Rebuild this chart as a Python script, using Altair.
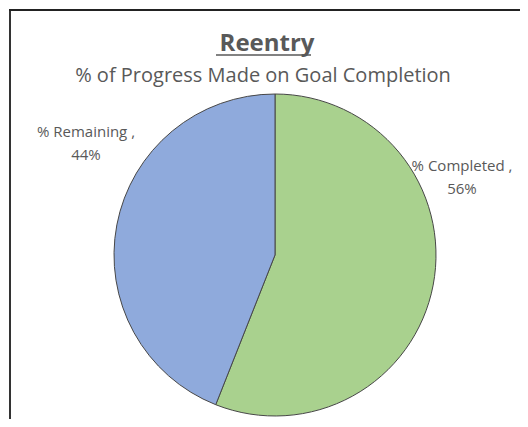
import altair as alt
import pandas as pd

categories = ["% Completed", "% Remaining"]
values = [56, 44]
colors = ["#A9D18E", "#8FAADC"]
title_text = "Reentry"
subtitle_text = "% of Progress Made on Goal Completion"

df = pd.DataFrame({"category": categories, "value": values, "order": [0, 1]})
df["label"] = [f"{v}%" for v in values]

W, H = 512, 411
CX, CY, R = 266, 246, 161
FONT = "Open Sans"
TXT = "#595959"

base = alt.Chart(df)

pie = base.mark_arc(outerRadius=R, stroke="#474747", strokeWidth=1).encode(
    theta=alt.Theta("value:Q", stack=True),
    color=alt.Color("category:N", scale=alt.Scale(domain=categories, range=colors), legend=None),
    order=alt.Order("order:Q"),
    x=alt.value(CX),
    y=alt.value(CY),
)

def label(cat, x, y1, y2):
    d = df[df["category"] == cat]
    l1 = alt.Chart(d).mark_text(font=FONT, fontSize=15, color=TXT, align="center", baseline="alphabetic").encode(
        text=alt.Text("category:N"), x=alt.value(x), y=alt.value(y1)
    ).transform_calculate(category="datum.category + ' ,'")
    l2 = alt.Chart(d).mark_text(font=FONT, fontSize=15, color=TXT, align="center", baseline="alphabetic").encode(
        text=alt.Text("label:N"), x=alt.value(x), y=alt.value(y2)
    )
    return l1 + l2

lab_c = label("% Completed", 453, 162, 185)
lab_r = label("% Remaining", 77, 128, 151)

tdf = pd.DataFrame({"t": [title_text], "s": [subtitle_text]})
title = alt.Chart(tdf).mark_text(font=FONT, fontSize=24, fontWeight="bold", color=TXT, align="center", baseline="alphabetic").encode(
    text="t:N", x=alt.value(258), y=alt.value(42))
underline = alt.Chart(tdf).mark_rule(color=TXT, strokeWidth=1.5).encode(
    x=alt.value(207), x2=alt.value(302), y=alt.value(46))
subtitle = alt.Chart(tdf).mark_text(font=FONT, fontSize=20, color=TXT, align="center", baseline="alphabetic").encode(
    text="s:N", x=alt.value(254), y=alt.value(73))

left_border = alt.Chart(tdf).mark_rule(color="#333333", strokeWidth=2).encode(
    x=alt.value(1), y=alt.value(0), y2=alt.value(H))
top_border = alt.Chart(tdf).mark_rule(color="#222222", strokeWidth=2).encode(
    x=alt.value(0), x2=alt.value(W), y=alt.value(1))

chart = alt.layer(pie, lab_c, lab_r, title, underline, subtitle, left_border, top_border).properties(
    width=W, height=H, padding=0,
    autosize=alt.AutoSizeParams(type="fit", contains="padding"),
).configure_view(stroke=None)

chart.save("out.html", embed_options={"renderer": "svg", "actions": False})
